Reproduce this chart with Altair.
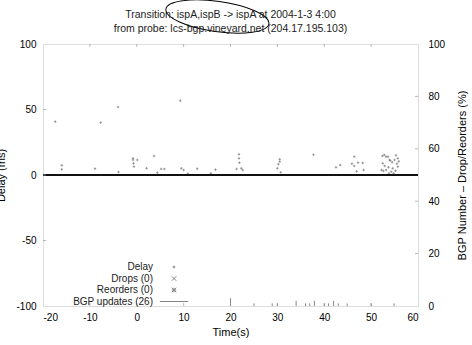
import altair as alt
import pandas as pd

FONT = "Liberation Sans"
INK = "#222222"
FRAME = "#9a9a9a"
POINT = "#858585"

title_lines = [
    "Transition: ispA,ispB -> ispA at 2004-1-3 4:00",
    "from probe: lcs-bgp.vineyard.net (204.17.195.103)",
]

# Delay samples that lift off the zero baseline: time (s) and delay (ms)
delay_time = [-17.4, -16.0, -16.0, -8.9, -7.7, -4.0, -3.9,
              -0.8, -0.8, -0.7, -0.6, 0.1,
              2.1, 3.7, 4.4, 5.2, 5.9,
              9.3, 9.5, 10.0, 10.9, 12.9,
              15.8, 16.8, 21.3, 21.8, 21.8, 21.9,
              22.3, 22.6,
              30.0, 30.2, 30.5, 30.5, 30.7,
              37.7, 42.5, 43.4,
              45.9, 46.4, 46.4, 46.9, 47.2, 48.2, 48.4,
              52.2, 52.4, 52.5, 52.6, 52.8, 52.9,
              53.2, 53.2, 53.6, 53.7, 53.8, 53.9,
              54.1, 54.3, 54.5, 54.6, 54.8,
              55.0, 55.2, 55.3, 55.5, 55.7, 55.7, 55.9]
delay_ms = [40.7, 7.4, 4.3, 4.8, 40.0, 51.9, 2.3,
            12.7, 11.5, 8.9, 6.4, 11.5,
            5.1, 14.5, 1.8, 4.6, 4.6,
            56.7, 5.1, 3.8, 1.0, 4.8,
            1.3, 4.1, 4.6, 15.8, 12.7, 9.4,
            5.1, 3.8,
            5.1, 8.2, 12.0, 10.2, 2.0,
            15.5, 5.9, 7.6,
            8.6, 14.0, 6.9, 2.8, 9.4, 9.2, 3.8,
            3.8, 14.5, 8.9, 3.1, 15.3, 6.9,
            14.0, 3.8, 14.0, 5.9, 1.3, 11.5,
            11.0, 2.5, 9.7, 5.1, 1.3,
            11.5, 3.3, 15.0, 8.6, 12.7, 6.4, 10.4]

# The bulk of the probe samples sit on zero delay across the whole window
baseline_start = [-20]
baseline_end = [60]
baseline_delay = [0]

# BGP updates seen per second
bgp_time = [20.0, 25.0, 28.9, 30.0, 34.0, 36.0, 36.9, 37.9, 40.0, 40.9, 42.0, 43.0, 44.9, 50.0, 54.9]
bgp_count = [3, 1, 1, 1, 2, 1, 1, 2, 1, 1, 2, 1, 1, 1, 1]

# Legend entries and their glyphs
series_names = ["Delay", "Drops (0)", "Reorders (0)", "BGP updates (26)"]
series_glyphs = [
    "M-0.45,0H0.45M0,-0.45V0.45",
    "M-0.75,-0.75L0.75,0.75M-0.75,0.75L0.75,-0.75",
    "M-0.75,0H0.75M0,-0.75V0.75M-0.75,-0.75L0.75,0.75M-0.75,0.75L0.75,-0.75",
    "M-4.7,0H4.7",
]

# Axis ticks
x_ticks = [-20, -10, 0, 10, 20, 30, 40, 50, 60]
y_ticks = [-100, -50, 0, 50, 100]
y2_ticks = [0, 20, 40, 60, 80, 100]

# Circled part of the title
callout_time = [17.2]
callout_delay = [121.0]
ELLIPSE = "M-1,0A1,0.29 0 1,1 1,0A1,0.29 0 1,1 -1,0"

W, H = 375, 262
PLAIN = "'' + datum.value"

x_scale = alt.Scale(domain=[-20, 60], nice=False, zero=False)
x_axis = alt.Axis(values=x_ticks, ticks=False, domain=False, grid=False, labelExpr=PLAIN,
                  labelPadding=6, titleX=W / 2, titleY=26, titleBaseline="middle",
                  titleFontWeight="normal")
y_scale = alt.Scale(domain=[-100, 100], nice=False, zero=False)
y_axis = alt.Axis(orient="left", values=y_ticks, ticks=False, domain=False, grid=False,
                  labelExpr=PLAIN, labelPadding=7, titleAngle=270, titleX=-42, titleY=H / 2,
                  titleBaseline="middle", titleFontWeight="normal")
y2_scale = alt.Scale(domain=[0, 100], nice=False, zero=False)
y2_axis = alt.Axis(orient="right", values=y2_ticks, ticks=False, domain=False, grid=False,
                   labelExpr=PLAIN, labelPadding=10, titleAngle=270, titleX=44, titleY=H / 2,
                   titleBaseline="middle", titleFontWeight="normal")

X_TITLE = "Time(s)"
Y_TITLE = "Delay (ms)"
Y2_TITLE = "BGP Number \u2013 Drop/Reorders (%)"


def xenc(field):
    return alt.X(field, type="quantitative", scale=x_scale, axis=x_axis, title=X_TITLE)


def yenc(field):
    return alt.Y(field, type="quantitative", scale=y_scale, axis=y_axis, title=Y_TITLE)


def y2enc(field):
    return alt.Y(field, type="quantitative", scale=y2_scale, axis=y2_axis, title=Y2_TITLE)


delay_df = pd.DataFrame({"time": delay_time, "delay": delay_ms,
                         "series": [series_names[0]] * len(delay_time)})
base_df = pd.DataFrame({"start": baseline_start, "end": baseline_end, "delay": baseline_delay})
bgp_df = pd.DataFrame({"time": bgp_time, "count": bgp_count})
xt_df = pd.DataFrame({"xt": x_ticks[1:-1]})
yt_df = pd.DataFrame({"yt": y_ticks[1:-1]})
y2t_df = pd.DataFrame({"yt": y2_ticks[1:-1]})
callout_df = pd.DataFrame({"time": callout_time, "delay": callout_delay})

points = alt.Chart(delay_df).mark_point(
    filled=False, stroke=POINT, strokeWidth=0.8, size=30, opacity=1
).encode(
    x=xenc("time"),
    y=yenc("delay"),
    shape=alt.Shape(
        "series:N",
        scale=alt.Scale(domain=series_names, range=series_glyphs),
        legend=alt.Legend(
            title=None, orient="none", legendX=126, legendY=218,
            labelAlign="right", labelOffset={"expr": "-26"}, symbolSize=36,
            symbolStrokeColor=POINT, symbolStrokeWidth=1, symbolFillColor="transparent",
            labelFont=FONT, labelFontSize=10, labelColor=INK,
            padding=0, rowPadding=1.5,
        ),
    ),
)

baseline = alt.Chart(base_df).mark_rule(color="#111111", strokeWidth=2).encode(
    x=xenc("start"), x2="end", y=yenc("delay")
)

TICK = 3
bottom_ticks = alt.Chart(xt_df).mark_tick(color=FRAME, size=TICK, thickness=1).encode(
    x=xenc("xt"), y=alt.value(H - TICK / 2)
)
top_ticks = alt.Chart(xt_df).mark_tick(color=FRAME, size=TICK, thickness=1).encode(
    x=xenc("xt"), y=alt.value(TICK / 2)
)
left_ticks = alt.Chart(yt_df).mark_tick(color=FRAME, size=TICK, thickness=1).encode(
    y=yenc("yt"), x=alt.value(TICK / 2)
)

callout = alt.Chart(callout_df).mark_point(
    shape=ELLIPSE, size=10816, angle=8, filled=False, stroke="#000000",
    strokeWidth=1, opacity=1
).encode(x=xenc("time"), y=yenc("delay"))

left_group = alt.layer(points, baseline, bottom_ticks, top_ticks, left_ticks, callout)

bgp = alt.Chart(bgp_df).mark_rule(color="#8a8a8a", strokeWidth=1).encode(
    x=xenc("time"), y=y2enc("count"), y2=alt.datum(0)
)
right_ticks = alt.Chart(y2t_df).mark_tick(color=FRAME, size=TICK, thickness=1).encode(
    y=y2enc("yt"), x=alt.value(W - TICK / 2)
)
right_group = alt.layer(bgp, right_ticks)

chart = alt.layer(left_group, right_group).resolve_scale(y="independent").properties(
    width=W, height=H,
    title=alt.TitleParams(text=title_lines, font=FONT, fontSize=10.5, fontWeight="normal",
                          color=INK, anchor="middle", frame="group", offset=9, dy=46,
                          lineHeight=14),
    autosize=alt.AutoSizeParams(type="none"),
    padding={"left": 43, "top": 44, "right": 54, "bottom": 39},
).configure_view(stroke=FRAME, strokeWidth=1).configure_axis(
    labelFont=FONT, labelFontSize=10, labelColor=INK,
    titleFont=FONT, titleFontSize=10, titleFontWeight="normal", titleColor=INK,
).configure(background="white")

chart.save("out.html", embed_options={"renderer": "svg", "actions": False})
